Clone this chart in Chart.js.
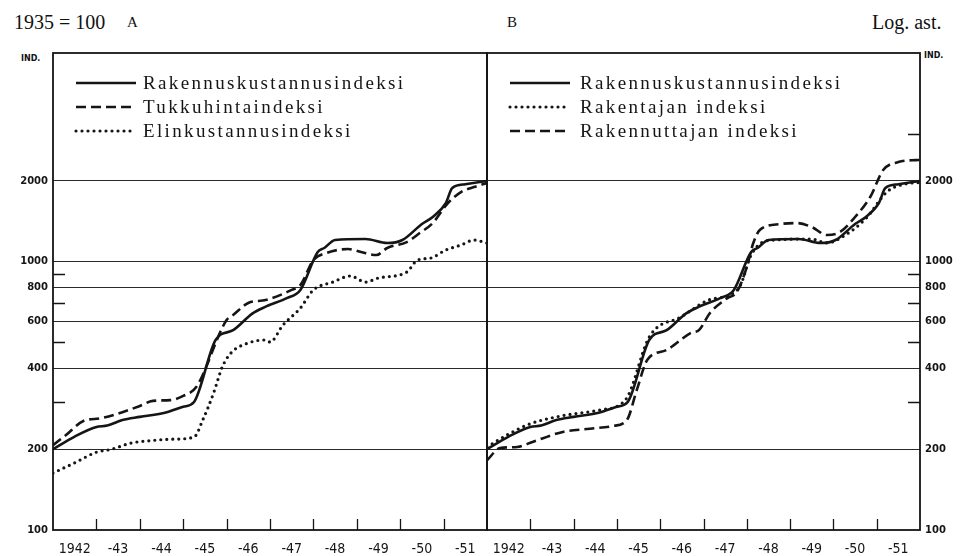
<!DOCTYPE html>
<html>
<head>
<meta charset="utf-8">
<script src="https://cdn.jsdelivr.net/npm/chart.js@4.4.0/dist/chart.umd.min.js"></script>
<style>
body { margin: 0; background: #fff; width: 968px; height: 556px; position: relative; overflow: hidden; }
canvas { position: absolute; top: 0; }
#chartA { left: 0; }
#chartB { left: 484px; }
.txt { position: absolute; color: #111; white-space: nowrap; line-height: 1; }
</style>
</head>
<body>
<div class="txt" style="left:14px;top:11px;font:20px 'Liberation Serif'">1935 = 100</div>
<div class="txt" style="left:127px;top:14px;font:15px 'Liberation Serif'">A</div>
<div class="txt" style="left:507px;top:14px;font:15px 'Liberation Serif'">B</div>
<div class="txt" style="left:872px;top:11px;font:20px 'Liberation Serif'">Log. ast.</div>
<div class="txt" style="left:21px;top:54px;font:bold 8px 'DejaVu Sans'">IND.</div>
<div class="txt" style="left:924px;top:51px;font:bold 8px 'DejaVu Sans'">IND.</div>
<canvas id="chartA" width="490" height="556" style="width:490px;height:556px"></canvas>
<canvas id="chartB" width="484" height="556" style="width:484px;height:556px"></canvas>
<script>
// x axis: years, tick labels in the middle of each year
var yearLabels = ['1942', '-43', '-44', '-45', '-46', '-47', '-48', '-49', '-50', '-51'];
var yMajor = [200, 400, 600, 800, 1000, 2000];
var yLabels = [100, 200, 400, 600, 800, 1000, 2000];
var yMinor = [300, 500, 700, 900, 3000];

// Rakennuskustannusindeksi (A and B)
var rakX = [1942.0, 1942.5, 1943.0, 1943.25, 1943.6, 1944.0, 1944.6, 1945.0, 1945.25, 1945.75, 1946.15, 1946.6, 1946.9, 1947.4, 1947.7, 1948.1, 1948.25, 1948.5, 1949.2, 1949.7, 1950.05, 1950.5, 1950.75, 1951.05, 1951.2, 1951.5, 1952.0];
var rakY = [200, 223, 242, 245, 257, 264, 274, 288, 300, 512, 556, 642, 680, 733, 785, 1087, 1125, 1205, 1215, 1174, 1205, 1382, 1468, 1655, 1883, 1945, 2000];

// Tukkuhintaindeksi (A)
var tukX = [1942.0, 1942.3, 1942.7, 1943.1, 1943.6, 1944.0, 1944.3, 1944.7, 1945.0, 1945.3, 1946.0, 1946.15, 1946.5, 1946.9, 1947.5, 1947.7, 1948.0, 1948.3, 1948.8, 1949.1, 1949.45, 1949.7, 1950.15, 1950.45, 1950.75, 1951.1, 1951.4, 1951.7, 1952.0];
var tukY = [207, 226, 255, 261, 275, 290, 303, 305, 316, 341, 606, 633, 702, 720, 785, 819, 1015, 1078, 1115, 1087, 1059, 1125, 1184, 1279, 1394, 1655, 1819, 1898, 1965];

// Elinkustannusindeksi (A)
var eliX = [1942.0, 1942.5, 1943.0, 1943.35, 1943.8, 1944.2, 1944.75, 1945.25, 1945.45, 1945.7, 1945.9, 1946.1, 1946.5, 1946.9, 1947.0, 1947.3, 1947.7, 1948.0, 1948.45, 1948.85, 1949.2, 1949.5, 1950.15, 1950.4, 1950.7, 1951.05, 1951.4, 1951.7, 1952.0];
var eliY = [163, 178, 195, 200, 211, 215, 218, 222, 257, 324, 405, 457, 498, 511, 502, 581, 672, 785, 840, 885, 840, 870, 915, 1015, 1032, 1106, 1154, 1205, 1174];

// Rakentajan indeksi (B)
var rtaX = [1942.0, 1942.5, 1943.0, 1943.7, 1944.6, 1945.2, 1945.75, 1946.5, 1947.1, 1947.6, 1947.85, 1948.1, 1948.5, 1949.5, 1949.85, 1950.3, 1950.75, 1951.25, 1951.7, 1952.0];
var rtaY = [204, 228, 249, 266, 280, 306, 525, 625, 718, 752, 815, 1060, 1200, 1215, 1175, 1265, 1450, 1830, 1955, 1975];

// Rakennuttajan indeksi (B)
var rnuX = [1942.0, 1942.3, 1942.7, 1943.05, 1943.75, 1944.3, 1944.9, 1945.23, 1945.46, 1945.7, 1946.15, 1946.7, 1946.9, 1947.15, 1947.55, 1947.77, 1948.0, 1948.15, 1948.3, 1948.77, 1949.15, 1949.5, 1949.85, 1950.15, 1950.5, 1950.85, 1951.15, 1951.5, 1951.9, 1952.0];
var rnuY = [182, 202, 204, 213, 232, 238, 244, 257, 333, 430, 469, 542, 557, 644, 732, 771, 956, 1174, 1313, 1382, 1394, 1347, 1258, 1290, 1468, 1743, 2197, 2353, 2393, 2395];

var INK = '#151515';

function points(xs, ys) {
    return xs.map(function (x, i) { return { x: x, y: ys[i] }; });
}

function lineSet(label, xs, ys, style) {
    var ds = {
        label: label,
        data: points(xs, ys),
        borderColor: INK,
        borderWidth: 2.6,
        pointRadius: 0,
        fill: false,
        cubicInterpolationMode: 'monotone',
        borderCapStyle: 'butt'
    };
    if (style === 'dash') {
        ds.borderDash = [10, 5];
    }
    if (style === 'dot') {
        ds.borderDash = [0, 6];
        ds.borderCapStyle = 'round';
        ds.borderWidth = 3.2;
    }
    return ds;
}

// short ticks, frame and legend inside the plot
var decor = {
    id: 'decor',
    afterDatasetsDraw: function (chart, args, opts) {
        var ctx = chart.ctx;
        var a = chart.chartArea;
        var xs = chart.scales.x;
        var ys = chart.scales.y;
        ctx.save();
        ctx.strokeStyle = INK;
        ctx.lineWidth = 1.3;
        ctx.beginPath();
        for (var yr = 1943; yr <= 1951; yr++) {
            var px = Math.round(xs.getPixelForValue(yr)) + 0.5;
            ctx.moveTo(px, a.bottom);
            ctx.lineTo(px, a.bottom - 11);
        }
        yMinor.forEach(function (v) {
            if (opts.side === 'left' && v === 3000) return;
            var py = Math.round(ys.getPixelForValue(v)) + 0.5;
            if (opts.side === 'left') {
                ctx.moveTo(a.left, py);
                ctx.lineTo(a.left + 12, py);
            } else {
                ctx.moveTo(a.right, py);
                ctx.lineTo(a.right - 12, py);
            }
        });
        ctx.stroke();

        ctx.lineWidth = 1.8;
        ctx.strokeRect(a.left, a.top, a.right - a.left, a.bottom - a.top);

        // legend, text spaced out to the width of the printed type
        ctx.font = "19px 'Liberation Serif'";
        var natural = ctx.measureText('Rakennuskustannusindeksi').width;
        var spacing = Math.max(0, (260 - natural) / 23);
        if ('letterSpacing' in ctx) ctx.letterSpacing = spacing.toFixed(2) + 'px';
        ctx.textBaseline = 'middle';
        ctx.fillStyle = INK;
        chart.data.datasets.forEach(function (ds, i) {
            var ry = opts.rowY[i];
            ctx.beginPath();
            ctx.lineWidth = ds.borderWidth;
            ctx.lineCap = ds.borderCapStyle;
            ctx.setLineDash(ds.borderDash || []);
            ctx.moveTo(a.left + opts.sampleX, ry);
            ctx.lineTo(a.left + opts.sampleX + 60, ry);
            ctx.stroke();
            ctx.setLineDash([]);
            ctx.fillText(ds.label, a.left + opts.textX, ry + 1);
        });
        ctx.restore();
    }
};

function makeChart(id, side, datasets, pad) {
    return new Chart(document.getElementById(id), {
        type: 'line',
        data: { datasets: datasets },
        plugins: [decor],
        options: {
            responsive: false,
            animation: false,
            layout: { padding: pad },
            plugins: {
                legend: { display: false },
                tooltip: { enabled: false },
                decor: { side: side, sampleX: 23, textX: side === 'left' ? 90 : 93, rowY: [83, 107, 131] }
            },
            scales: {
                x: {
                    type: 'linear',
                    min: 1942,
                    max: 1952,
                    afterBuildTicks: function (s) {
                        s.ticks = yearLabels.map(function (l, i) { return { value: 1942.5 + i }; });
                    },
                    afterFit: function (s) { s.height = 26; },
                    grid: { display: false },
                    border: { display: false },
                    ticks: {
                        autoSkip: false,
                        maxRotation: 0,
                        padding: 3,
                        color: INK,
                        font: { family: "'DejaVu Sans Condensed', 'DejaVu Sans'", size: 14 },
                        callback: function (v) { return yearLabels[Math.round(v - 1942.5)]; }
                    }
                },
                y: {
                    type: 'logarithmic',
                    position: side,
                    min: 100,
                    max: 6000,
                    afterBuildTicks: function (s) {
                        s.ticks = [100, 200, 300, 400, 500, 600, 700, 800, 900, 1000, 2000, 3000].map(function (v) { return { value: v }; });
                    },
                    afterFit: function (s) { s.width = side === 'left' ? 53 : 48; },
                    grid: {
                        drawTicks: false,
                        lineWidth: 1.1,
                        color: function (c) {
                            return yMajor.indexOf(c.tick.value) >= 0 ? '#2a2a2a' : 'rgba(0,0,0,0)';
                        }
                    },
                    border: { display: false },
                    ticks: {
                        autoSkip: false,
                        padding: 5,
                        color: INK,
                        font: { family: "'DejaVu Sans'", size: 10, weight: 'bold' },
                        callback: function (v) { return yLabels.indexOf(v) >= 0 ? String(v) : ''; }
                    }
                }
            }
        }
    });
}

makeChart('chartA', 'left', [
    lineSet('Rakennuskustannusindeksi', rakX, rakY, 'solid'),
    lineSet('Tukkuhintaindeksi', tukX, tukY, 'dash'),
    lineSet('Elinkustannusindeksi', eliX, eliY, 'dot')
], { left: 0, right: 3, top: 53, bottom: 0 });

makeChart('chartB', 'right', [
    lineSet('Rakennuskustannusindeksi', rakX, rakY, 'solid'),
    lineSet('Rakentajan indeksi', rtaX, rtaY, 'dot'),
    lineSet('Rakennuttajan indeksi', rnuX, rnuY, 'dash')
], { left: 3, right: 0, top: 53, bottom: 0 });
</script>
</body>
</html>
